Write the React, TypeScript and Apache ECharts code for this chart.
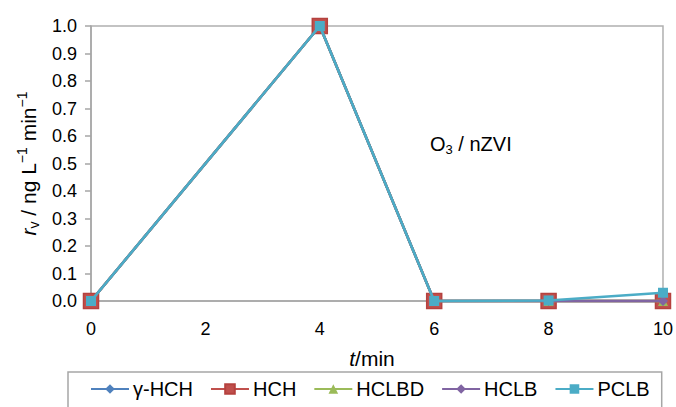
import React, { useEffect, useRef } from "react";
import * as echarts from "echarts";

const times = [0, 4, 6, 8, 10];
const gammaHCH = [0, 1.0, 0, 0, 0];
const HCH = [0, 1.0, 0, 0, 0];
const HCLBD = [0, 1.0, 0, 0, 0];
const HCLB = [0, 1.0, 0, 0, 0];
const PCLB = [0, 1.0, 0, 0.002, 0.03];

const seriesNames = ["γ-HCH", "HCH", "HCLBD", "HCLB", "PCLB"];
const seriesColors = ["#4f81bd", "#c0504d", "#9bbb59", "#8064a2", "#4bacc6"];
const seriesSymbols = ["diamond", "rect", "triangle", "diamond", "rect"];
const seriesSymbolSizes = [10, 15, 10, 10, 10];
const seriesData = [gammaHCH, HCH, HCLBD, HCLB, PCLB];

const FONT = "'Liberation Sans', Arial, sans-serif";
const FS = 18;
const FL = 20;

export default function App() {
  const ref = useRef<HTMLDivElement>(null);
  useEffect(() => {
    if (!ref.current) return;
    const chart = echarts.init(ref.current, undefined, { renderer: "svg" });
    const option: any = {
      animation: false,
      backgroundColor: "#ffffff",
      textStyle: { fontFamily: FONT, color: "#000" },
      grid: {
        left: 91,
        right: 9,
        top: 26,
        bottom: 106,
        show: true,
        borderColor: "#b0b0b0",
        borderWidth: 1.5,
      },
      legend: {
        left: 68,
        top: 372,
        padding: [7, 12, 12, 22],
        borderColor: "#a6a6a6",
        borderWidth: 1.5,
        itemWidth: 38,
        itemHeight: 12,
        itemGap: 17,
        textStyle: { fontFamily: FONT, fontSize: FL, color: "#000", padding: [0, 0, 0, -1] },
        data: seriesNames,
      },
      xAxis: {
        type: "value",
        min: 0,
        max: 10,
        interval: 2,
        name: "{i|t}{n|/min}",
        nameLocation: "middle",
        nameGap: 47,
        nameTextStyle: {
          padding: [0, 10, 0, 0],
          rich: {
            i: { fontStyle: "italic", fontSize: 21, fontFamily: FONT, color: "#000" },
            n: { fontSize: 21, fontFamily: FONT, color: "#000" },
          },
        },
        axisLine: { show: true, lineStyle: { color: "#a6a6a6", width: 1.5 } },
        axisTick: { show: false },
        axisLabel: { fontSize: FS, color: "#000", fontFamily: FONT, margin: 19 },
        splitLine: { show: false },
      },
      yAxis: {
        type: "value",
        min: 0,
        max: 1,
        interval: 0.1,
        name: "{i|r}{sub|v}{n| / ng L}{sup|−1}{n| min}{sup|−1}",
        nameLocation: "middle",
        nameRotate: 90,
        nameGap: 50,
        nameTextStyle: {
          rich: {
            i: { fontStyle: "italic", fontSize: 21, fontFamily: FONT, color: "#000" },
            n: { fontSize: 21, fontFamily: FONT, color: "#000" },
            sub: { fontSize: 14, fontFamily: FONT, color: "#000", verticalAlign: "bottom", padding: [12, 0, 0, 0] },
            sup: { fontSize: 14, fontFamily: FONT, color: "#000", verticalAlign: "top", padding: [0, 0, 11, 0] },
          },
        },
        axisLine: { show: true, lineStyle: { color: "#a6a6a6", width: 1.5 } },
        axisTick: { show: true, inside: false, length: 6, lineStyle: { color: "#a6a6a6", width: 1.5 } },
        axisLabel: {
          fontSize: FS,
          color: "#000",
          fontFamily: FONT,
          margin: 14,
          formatter: (v: number) => v.toFixed(1),
        },
        splitLine: { show: false },
      },
      graphic: [
        {
          type: "text",
          x: 430,
          y: 132,
          style: {
            text: "{n|O}{sub|3}{n| / nZVI}",
            rich: {
              n: { fontSize: 20, fontFamily: FONT, fill: "#000" },
              sub: { fontSize: 13, fontFamily: FONT, fill: "#000", verticalAlign: "bottom", padding: [11, 0, 0, 0] },
            },
          },
        },
      ],
      series: seriesNames.map((name, i) => ({
        name,
        type: "line",
        data: times.map((t, j) => [t, seriesData[i][j]]),
        symbol: seriesSymbols[i],
        symbolSize: seriesSymbolSizes[i],
        showAllSymbol: true,
        clip: false,
        z: 2 + i,
        lineStyle: { color: seriesColors[i], width: 2.5 },
        itemStyle: {
          color: seriesColors[i],
          borderColor: i === 1 ? "#b5413e" : seriesColors[i],
          borderWidth: i === 1 ? 1.5 : 0,
        },
      })),
    };
    chart.setOption(option);
    return () => chart.dispose();
  }, []);
  return <div ref={ref} style={{ width: 676, height: 407, position: "absolute", left: 0, top: 0 }} />;
}
